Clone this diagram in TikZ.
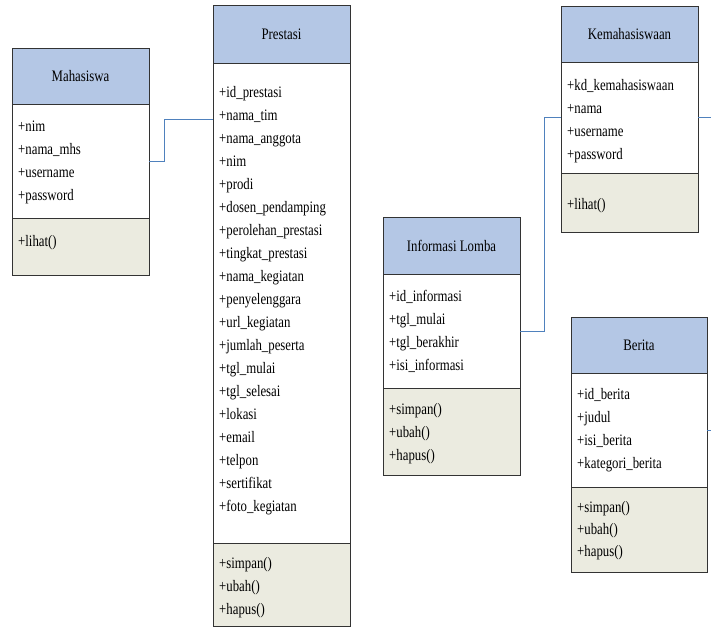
\documentclass[tikz,border=0pt]{standalone}
\usepackage{fontspec}
\setmainfont[FakeStretch=0.8]{Liberation Serif}
\definecolor{hdrblue}{RGB}{180,199,229}
\definecolor{opfill}{RGB}{235,235,224}
\definecolor{linkblue}{RGB}{79,129,189}
\tikzset{
 comp/.style={draw=black!80, line width=0.8pt, inner sep=0pt, outer sep=0pt, anchor=north west},
 hdr/.style={comp, fill=hdrblue, font=\fontsize{16}{19}\selectfont},
 attrbox/.style={comp, fill=white},
 opbox/.style={comp, fill=opfill},
 member/.style={anchor=base west, inner sep=0pt, font=\fontsize{16}{19}\selectfont},
 link/.style={draw=linkblue, line width=0.8pt},
}
% name, xl, xr, ytop, yheaderbottom, yattrbottom, ybottom, title
\newcommand{\classbox}[8]{%
 \node[hdr, minimum width={(#3-#2)*1pt}, minimum height={(#5-#4)*1pt}] (#1-h) at (#2,#4) {#8};
 \node[attrbox, minimum width={(#3-#2)*1pt}, minimum height={(#6-#5)*1pt}] (#1-a) at (#2,#5) {};
 \node[opbox, minimum width={(#3-#2)*1pt}, minimum height={(#7-#6)*1pt}] (#1-o) at (#2,#6) {};
}
% prefix, xl, first centre y, step, list
\newcommand{\members}[5]{%
 \foreach \m [count=\i from 1] in {#5}
  \node[member] (#1\i) at ({#2+6},{#3+(\i-1)*#4+5}) {\m};
}
\begin{document}
\begin{tikzpicture}[x=1pt,y=-1pt]
\useasboundingbox (0,0) rectangle (711,630);

% Mahasiswa
\classbox{mhs}{12}{149}{48}{104}{218}{275}{Mahasiswa}
\members{mhs-a}{12}{126.5}{23}{+nim,+nama\_mhs,+username,+password}
\members{mhs-o}{12}{241}{23}{+lihat()}

% Prestasi
\classbox{pre}{213}{350}{5}{63}{543}{626}{Prestasi}
\members{pre-a}{213}{92}{23}{+id\_prestasi,+nama\_tim,+nama\_anggota,+nim,+prodi,+dosen\_pendamping,+perolehan\_prestasi,+tingkat\_prestasi,+nama\_kegiatan,+penyelenggara,+url\_kegiatan,+jumlah\_peserta,+tgl\_mulai,+tgl\_selesai,+lokasi,+email,+telpon,+sertifikat,+foto\_kegiatan}
\members{pre-o}{213}{563}{23}{+simpan(),+ubah(),+hapus()}

% Kemahasiswaan
\classbox{kem}{561}{698}{6}{62}{173}{232}{Kemahasiswaan}
\members{kem-a}{561}{85}{23}{+kd\_kemahasiswaan,+nama,+username,+password}
\members{kem-o}{561}{204}{23}{+lihat()}

% Informasi Lomba
\classbox{inf}{383}{520}{217}{274}{388}{475}{Informasi Lomba}
\members{inf-a}{383}{296}{23}{+id\_informasi,+tgl\_mulai,+tgl\_berakhir,+isi\_informasi}
\members{inf-o}{383}{409}{23}{+simpan(),+ubah(),+hapus()}

% Berita
\classbox{ber}{571}{707}{317}{373}{487}{572}{Berita}
\members{ber-a}{571}{394}{23.3}{+id\_berita,+judul,+isi\_berita,+kategori\_berita}
\members{ber-o}{571}{507.5}{22}{+simpan(),+ubah(),+hapus()}

% connectors
\coordinate (pre-in) at (213,119);
\coordinate (kem-out) at (711,117.5);
\coordinate (ber-out) at (711,430);
\draw[link] (mhs-a.east) -- ++(15,0) |- (pre-in);
\draw[link] (inf-a.east) -- ++(24,0) |- (kem-a.west);
\draw[link] (kem-a.east) -- (kem-out);
\draw[link] (ber-a.east) -- (ber-out);
\end{tikzpicture}
\end{document}
